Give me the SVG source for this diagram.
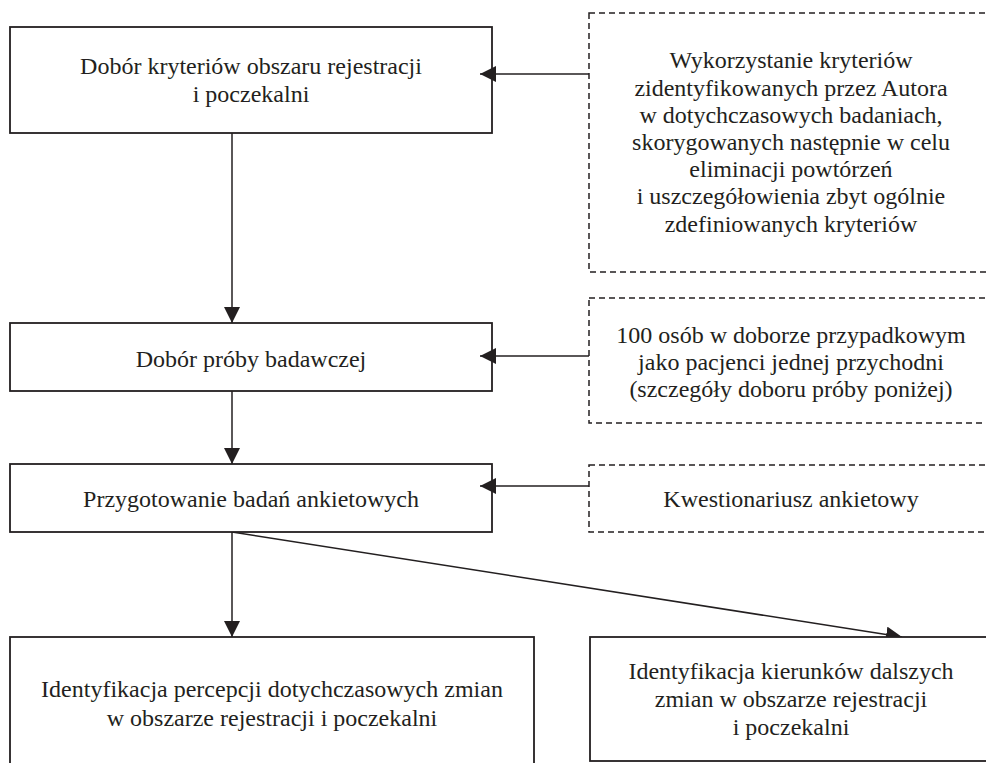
<svg xmlns="http://www.w3.org/2000/svg" width="986" height="763" viewBox="0 0 986 763">
<defs>
<style>
.box{fill:#fff;stroke:#231f20;stroke-width:1.8}
.dbox{fill:#fff;stroke:#231f20;stroke-width:1.5;stroke-dasharray:6 4}
.t{font-family:"Liberation Serif","Times New Roman",serif;font-size:24px;fill:#231f20;text-anchor:middle}
.c{stroke:#231f20;stroke-width:1.5;fill:none;marker-end:url(#ah)}
</style>
<marker id="ah" markerUnits="userSpaceOnUse" markerWidth="17" markerHeight="16" refX="16" refY="8" orient="auto" viewBox="0 0 17 16">
<path d="M0,0 L16,8 L0,16 z" fill="#231f20"/>
</marker>
</defs>
<rect width="986" height="763" fill="#fff"/>
<g id="connectors">
<line class="c" x1="232" y1="133" x2="232" y2="323"/>
<line class="c" x1="232" y1="391" x2="232" y2="464"/>
<line class="c" x1="232" y1="532" x2="232" y2="637"/>
<line class="c" x1="232" y1="532" x2="902" y2="637"/>
</g>
<g id="n1">
<rect class="box" x="10" y="27" width="482" height="106"/>
<text class="t" x="251" y="74">Dobór kryteriów obszaru rejestracji</text>
<text class="t" x="251" y="102">i poczekalni</text>
</g>
<g id="n2">
<rect class="box" x="10" y="323" width="482" height="68"/>
<text class="t" x="251" y="367">Dobór próby badawczej</text>
</g>
<g id="n3">
<rect class="box" x="10" y="464" width="482" height="68"/>
<text class="t" x="251" y="507">Przygotowanie badań ankietowych</text>
</g>
<g id="n4">
<rect class="box" x="10" y="637" width="524" height="140"/>
<text class="t" x="272" y="697">Identyfikacja percepcji dotychczasowych zmian</text>
<text class="t" x="272" y="726">w obszarze rejestracji i poczekalni</text>
</g>
<g id="n5">
<rect class="box" x="590" y="637" width="402" height="124"/>
<text class="t" x="791" y="679">Identyfikacja kierunków dalszych</text>
<text class="t" x="791" y="707">zmian w obszarze rejestracji</text>
<text class="t" x="791" y="735">i poczekalni</text>
</g>
<g id="nA">
<rect class="dbox" x="589" y="13" width="404" height="259"/>
<text class="t" x="791" y="68">Wykorzystanie kryteriów</text>
<text class="t" x="791" y="96">zidentyfikowanych przez Autora</text>
<text class="t" x="791" y="123">w dotychczasowych badaniach,</text>
<text class="t" x="791" y="150">skorygowanych następnie w celu</text>
<text class="t" x="791" y="177">eliminacji powtórzeń</text>
<text class="t" x="791" y="204">i uszczegółowienia zbyt ogólnie</text>
<text class="t" x="791" y="232">zdefiniowanych kryteriów</text>
</g>
<g id="nB">
<rect class="dbox" x="589" y="298" width="404" height="125"/>
<text class="t" x="791" y="343">100 osób w doborze przypadkowym</text>
<text class="t" x="791" y="370">jako pacjenci jednej przychodni</text>
<text class="t" x="791" y="397">(szczegóły doboru próby poniżej)</text>
</g>
<g id="nC">
<rect class="dbox" x="589" y="465" width="404" height="67"/>
<text class="t" x="791" y="507">Kwestionariusz ankietowy</text>
</g>
<g id="connectors-side">
<line class="c" x1="589" y1="74" x2="480" y2="74"/>
<line class="c" x1="589" y1="356" x2="480" y2="356"/>
<line class="c" x1="589" y1="486" x2="480" y2="486"/>
</g>
</svg>
